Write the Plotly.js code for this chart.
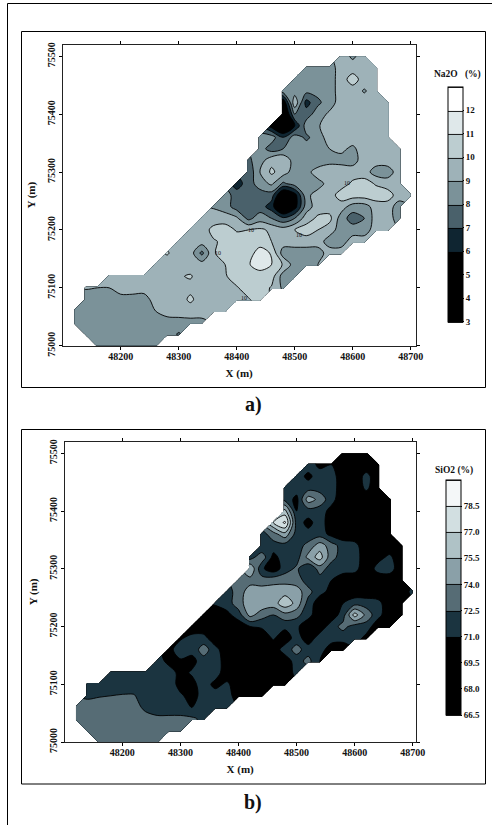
<!DOCTYPE html>
<html><head><meta charset="utf-8">
<script src="https://cdn.plot.ly/plotly-3.0.1.min.js"></script>
<style>html,body{margin:0;padding:0;background:#fff;overflow:hidden}#c{width:492px;height:825px}</style>
</head><body><div id="c"></div>
<script>
const xGrid=[48120,48140,48160,48180,48200,48220,48240,48260,48280,48300,48320,48340,48360,48380,48400,48420,48440,48460,48480,48500,48520,48540,48560,48580,48600,48620,48640,48660,48680,48700];
const yGrid=[75000,75020,75040,75060,75080,75100,75120,75140,75160,75180,75200,75220,75240,75260,75280,75300,75320,75340,75360,75380,75400,75420,75440,75460,75480,75500];
// first filled column of each grid row
const rowStart=[2,1,0,0,1,1,3,7,8,9,10,11,12,13,14,15,15,16,16,17,18,18,18,19,20,23];
const na2oRows=[
[8.5,8.5,8.5,8.5,8.5,8.5],
[8.5,8.5,8.5,8.5,8.5,8.5,8.5,8.5,7.9],
[8.5,8.5,8.5,8.5,8.5,8.5,8.5,8.5,8.5,8.6,8.7,8.7],
[8.5,8.5,8.5,8.5,8.5,8.5,8.5,9.0,9.5,9.5,9.5,9.5,9.5,9.5],
[8.4,8.5,8.6,8.6,8.6,8.5,9.5,9.5,9.5,10.2,9.5,9.5,9.8,9.9,9.9,10.5],
[9.1,9.0,9.0,9.5,9.5,9.5,9.5,9.5,10.0,9.7,9.5,9.5,9.8,9.9,10.5,10.5,9.9,8.8],
[9.5,9.5,9.5,9.5,9.5,9.5,9.9,10.1,9.5,9.5,9.9,10.5,10.5,10.5,10.5,8.5,8.5],
[9.5,9.5,9.5,9.5,9.5,9.8,10.0,10.5,10.9,11.5,11.0,9.9,8.5,8.5,9.0],
[10.1,9.5,9.5,7.7,9.9,10.5,10.5,10.5,11.5,10.9,8.5,8.5,8.5,8.5,9.5,9.5],
[9.5,9.5,9.5,9.9,10.2,10.5,10.5,10.5,10.0,9.5,9.5,9.5,9.5,8.5,8.5,9.5,9.5],
[9.5,9.5,10.3,10.5,9.9,10.0,10.2,9.8,9.5,10.0,10.5,10.0,9.5,8.5,8.5,8.5,9.5,9.5],
[9.5,9.5,9.5,9.2,7.7,8.5,8.0,7.2,8.0,9.5,10.2,10.3,8.5,7.5,8.0,9.5,9.5,8.5],
[8.9,8.5,7.5,7.5,7.5,6.5,4.0,5.5,8.5,9.5,9.5,9.5,8.5,8.5,9.5,9.5,8.5],
[8.5,7.5,7.5,7.5,7.5,4.5,5.5,8.7,9.5,9.5,10.5,10.5,10.5,10.5,10.5,9.5,9.5],
[6.5,7.5,8.5,9.2,7.8,8.5,8.5,8.5,9.5,9.5,10.2,10.4,9.9,9.5,9.5],
[7.2,9.0,10.2,9.5,8.5,8.5,9.7,9.2,9.5,9.5,9.5,8.5,8.5,9.5],
[7.8,8.5,9.7,9.9,8.5,8.5,8.0,8.9,8.7,8.6,9.5,9.5,9.5,9.5],
[8.5,7.5,8.0,8.5,8.5,8.7,9.0,9.2,8.8,9.5,9.5,9.5,9.5],
[8.5,8.5,7.0,8.5,7.8,8.5,9.5,9.5,9.5,9.5,9.5,9.5],
[5.5,4.0,6.0,8.5,8.9,9.5,9.5,9.5,9.5,9.5,9.5],
[4.0,8.0,7.5,8.5,9.2,9.5,9.5,9.5,9.5,9.5],
[5.0,9.8,6.6,7.8,8.5,9.5,9.5,9.5,9.5,9.5],
[8.5,8.5,8.3,8.3,8.5,9.5,9.5,8.9,9.5],
[8.5,9.0,8.5,8.5,9.5,10.5,9.5,9.5],
[8.5,8.5,8.5,9.5,9.5,9.5,9.5],
[9.5,8.8,9.5]];
const sio2Rows=[
[73.2,73.2,73.2,73.2,73.2,73.2],
[73.2,73.2,73.2,73.2,73.2,73.2,73.2,73.2,72.6],
[73.2,73.2,73.2,73.2,73.2,73.2,73.0,72.8,72.8,72.8,72.8,72.1],
[73.2,73.2,73.2,73.2,73.2,73.0,72.2,71.8,71.8,71.8,70.9,71.8,71.8,71.8],
[72.2,72.4,72.5,72.6,72.6,71.8,71.8,71.8,71.2,70.5,71.5,71.8,71.8,70,70,70],
[71.8,71.8,71.8,71.8,71.8,71.8,71.8,71.8,70.5,70.5,71.8,70.5,71.3,70,70,70,70,70],
[71.8,71.8,71.8,71.8,71.8,71.8,70.5,71.2,71.8,71.8,70,70,70,70,70,70,71.5],
[71.8,70.5,70.8,70.5,71.8,71.8,70.2,70,70,70,70,70,71.8,73,71],
[70.5,71.8,71.5,73.3,71.5,70,70,70,70,70,71.8,73,71.8,71.8,70,70],
[70.8,71.5,71.5,70,70,70,70,70,71.2,70,71.8,70,71.8,71.8,71.6,71.8,70.5],
[70,70,70,70,70,71,71.2,71.8,71.4,71.3,70,70,71.8,73,71.8,71.8,70,70],
[70,70,70.5,71.8,74.5,73.2,72.5,73.5,73,71.5,70,70,71.8,76.2,73.5,71.5,70,70],
[71.2,71.8,73.3,75,75,74.8,76.5,75,71.9,70,70,71,71.9,71.8,71.5,70,70],
[71.8,73.2,74.8,74.8,74.8,75,74.8,73,71.5,70.5,70,70,70,70,70,70,71.5],
[73.2,73.4,73.2,73.5,73.5,73.2,71.8,71.8,71,70,70,70,70,70,70],
[75.5,71.3,70,71.8,72.8,71,73.2,71.8,71.7,71.5,70,71.5,71.7,70],
[71.8,73.5,70.5,71.8,71.8,74.5,76.2,73,71.8,71.8,70,70.5,71.3,70],
[71,71.8,71.8,71.8,73,74.8,73.2,71.8,71.5,70,70,70,70],
[71.8,73.4,75,71.8,71.5,71.8,70.5,70,70,70,70,70],
[77,78.8,71.8,70.5,71.8,70,70,70,70,70,70],
[76,71,71.8,71.7,70.5,70,70,70,70,70],
[72,70.5,74.8,73.5,71.5,70,70,70,70,70],
[71.8,71.8,71.8,71.8,71.8,70,70,71.3,70],
[71.8,70.6,71.8,71.7,70,70,71.5,70],
[71.8,70.6,71,70,70,70,70],
[70,70,70]];
const na2oColors=['#000000','#000000','#000000','#0f2531','#4a616b','#7b9299','#9eb2b8','#bccdd0','#dfe8ea','#ffffff'];
const sio2Colors=['#000000','#000000','#000000','#1b3440','#566c75','#8aa0a8','#afc2c6','#d2dfe1','#f4f7f8'];
const na2oTicks=[3,4,5,6,7,8,9,10,11,12];
const sio2Ticks=[66.5,68,69.5,71,72.5,74,75.5,77,78.5];
const sio2TickText=['66.5','68.0','69.5','71.0','72.5','74.0','75.5','77.0','78.5'];
const xTicks=[48200,48300,48400,48500,48600,48700];
const yTicks=[75000,75100,75200,75300,75400,75500];
const labelX=[48590,48425,48508,48367,48413];
const labelY=[75281,75200,75191,75160,75083];

const W=492,H=825,serif='"Liberation Serif","Times New Roman",serif';
const fx=p=>p/W, fy=p=>1-p/H;
function grid(rows){return rows.map((r,j)=>{const o=new Array(xGrid.length).fill(null);r.forEach((v,k)=>{o[rowStart[j]+k]=v});return o;});}
function steps(colors){const n=colors.length,out=[];colors.forEach((c,i)=>{out.push([i/n,c]);out.push([(i+1)/n,c]);});return out;}
function axis(dom,rng,vals,title,angle,anchor,standoff){return {domain:dom,range:rng,tickmode:'array',tickvals:vals,ticktext:vals.map(String),ticks:'outside',ticklen:3,tickwidth:1,tickcolor:'#000',showgrid:false,zeroline:false,showline:true,linecolor:'#222',linewidth:1,mirror:'ticks',tickangle:angle,anchor:anchor,tickfont:{family:serif,size:10,color:'#111',weight:'bold'},title:{text:title,standoff:standoff,font:{family:serif,size:11,color:'#111',weight:'bold'}},automargin:false};}
function trace(rows,colors,start,end,size,xa,ya,ticks,text,top,bot,cx){
 return {type:'contour',x:xGrid,y:yGrid,z:grid(rows),xaxis:xa,yaxis:ya,connectgaps:false,zmin:start,zmax:end,autocontour:false,
  contours:{start:start,end:end,size:size,coloring:'fill',showlines:true},line:{color:'#000',width:0.9,smoothing:0.9},colorscale:steps(colors),hoverinfo:'skip',
  colorbar:{x:fx(cx),xanchor:'left',xpad:0,y:fy((top+bot)/2),yanchor:'middle',ypad:0,len:bot-top,lenmode:'pixels',thickness:15,thicknessmode:'pixels',outlinecolor:'#000',outlinewidth:1,
   tickmode:'array',tickvals:ticks,ticktext:text,ticks:'outside',ticklen:1,tickcolor:'#000',tickfont:{family:serif,size:9,color:'#111',weight:'bold'}}};
}
const traces=[
 trace(na2oRows,na2oColors,3,13,1,'x','y',na2oTicks,na2oTicks.map(String),86.7,321.7,448),
 trace(sio2Rows,sio2Colors,66.5,80,1.5,'x2','y2',sio2Ticks,sio2TickText,480,715,446)
];
const rect=(x0,y0,x1,y1,w)=>({type:'rect',xref:'paper',yref:'paper',x0:fx(x0),x1:fx(x1),y0:fy(y0),y1:fy(y1),line:{color:'#000',width:w},fillcolor:'rgba(0,0,0,0)',layer:'below'});
const txt=(t,x,y,s)=>({text:t,xref:'paper',yref:'paper',x:fx(x),y:fy(y),xanchor:'center',yanchor:'middle',showarrow:false,font:{family:serif,size:s,color:'#111',weight:'bold'}});
const layout={width:W,height:H,margin:{l:0,r:0,t:0,b:0},paper_bgcolor:'#fff',plot_bgcolor:'#fff',showlegend:false,
 xaxis:Object.assign(axis([fx(62.7),fx(415.7)],[48100,48708.6],xTicks,'X (m)',0,'y',8),{ticklabelstandoff:-2}),
 yaxis:axis([fy(345.7),fy(44.7)],[75000,75519.9],yTicks,'Y (m)',-90,'x',7),
 xaxis2:Object.assign(axis([fx(64.7),fx(415.7)],[48100.8,48705],xTicks,'X (m)',0,'y2',8),{ticklabelstandoff:-2}),
 yaxis2:axis([fy(742),fy(441.7)],[75000,75520],yTicks,'Y (m)',-90,'x2',7),
 shapes:[rect(7.5,3.5,520,850,1),rect(21.5,31.5,485.5,387.5,1),rect(21.5,429.5,485.5,784,1)],
 annotations:[txt('Na2O   (%)',457,74,9.5),txt('SiO2 (%)',454,470,9.5),txt('a)',253,404,20),txt('b)',253,802,20)].concat(
  labelX.map((x,i)=>({text:'10',x:x,y:labelY[i],xref:'x',yref:'y',showarrow:false,font:{family:serif,size:6,color:'#111'}})))
};
Plotly.newPlot('c',traces,layout,{displayModeBar:false,staticPlot:true});
</script></body></html>
